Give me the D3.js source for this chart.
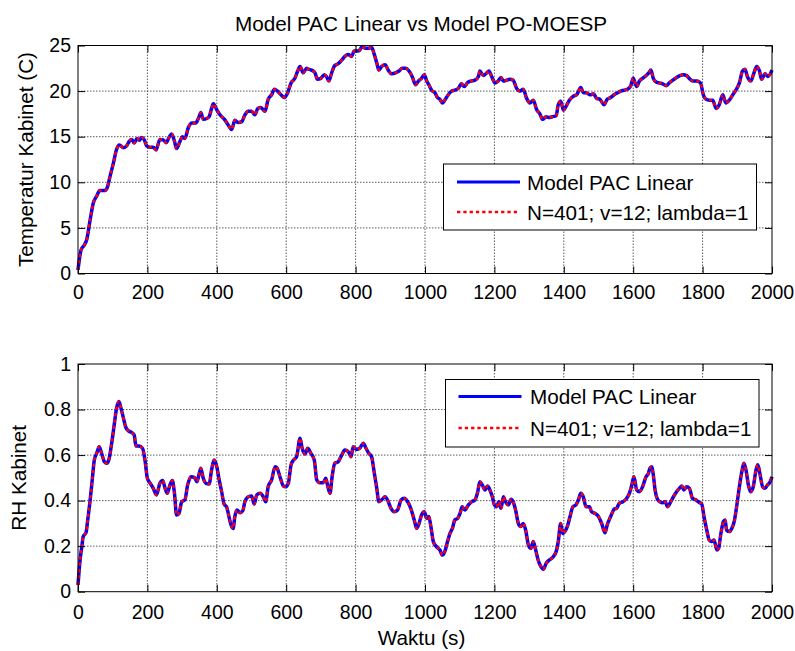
<!DOCTYPE html>
<html>
<head>
<meta charset="utf-8">
<script src="https://cdn.jsdelivr.net/npm/d3@7"></script>
<style>
  html, body { margin: 0; padding: 0; background: #fff; }
  svg { display: block; font-family: "Liberation Sans", Arial, sans-serif; }
</style>
</head>
<body>
<svg id="chart" width="795" height="651"></svg>
<script>
// ---------------- DATA ----------------
const chartTitle = "Model PAC Linear vs Model PO-MOESP";
const seriesNames = ["Model PAC Linear", "N=401; v=12; lambda=1"];
const xTicks = [0, 200, 400, 600, 800, 1000, 1200, 1400, 1600, 1800, 2000];
const tempTicks = [0, 5, 10, 15, 20, 25];
const rhTicks = [0, 0.2, 0.4, 0.6, 0.8, 1];

// Top panel: time (s) and cabinet temperature (C)
const tempTime = [0,9,18,25,35,44,54,63,78,85,92,102,111,119,131,140,148,155,162,170,177,183,191,198,207,217,225,236,246,254,262,270,278,284,294,301,308,318,328,339,349,354,361,371,378,385,390,400,409,422,431,443,452,462,472,481,491,500,510,518,527,539,548,558,566,575,585,595,604,614,625,633,640,649,659,664,673,683,690,700,710,716,723,731,740,750,760,769,779,788,796,806,812,819,827,837,846,854,861,867,875,885,894,904,915,925,934,944,954,963,973,981,990,998,1005,1011,1019,1029,1036,1043,1050,1057,1067,1077,1086,1096,1105,1113,1123,1132,1144,1154,1158,1168,1178,1184,1192,1202,1211,1219,1226,1235,1245,1254,1264,1274,1283,1293,1302,1312,1322,1331,1339,1349,1358,1368,1378,1384,1391,1399,1406,1416,1426,1437,1449,1456,1466,1476,1485,1495,1504,1516,1525,1535,1545,1554,1564,1574,1583,1593,1600,1610,1618,1627,1637,1645,1651,1658,1666,1675,1685,1695,1704,1714,1725,1735,1744,1754,1764,1773,1783,1794,1802,1810,1819,1829,1839,1848,1858,1867,1877,1887,1896,1906,1915,1922,1929,1939,1948,1956,1964,1970,1980,1988,2000];
const tempPAC = [0.4,2.6,3.1,3.7,5.9,7.7,8.5,9.1,9.1,9.5,10.6,12.1,13.6,14.1,13.8,14.0,14.5,14.7,14.3,14.8,14.6,14.9,14.65,14.0,13.85,13.85,13.55,14.7,14.65,14.35,14.9,15.3,14.5,13.7,14.5,15.0,14.8,16.0,16.5,16.5,17.2,17.65,16.9,17.0,17.2,18.1,18.6,17.95,17.4,16.9,16.4,15.8,16.8,16.55,16.65,17.4,17.8,17.8,17.4,18.1,18.2,17.8,19.1,19.6,20.2,20.0,19.6,19.3,19.8,20.9,21.4,22.2,22.7,22.0,22.5,22.4,22.3,22.0,21.3,21.4,21.8,21.6,21.1,22.0,22.8,23.0,23.4,23.8,24.0,23.8,24.4,24.4,24.5,24.9,24.7,24.7,24.8,24.0,23.1,22.3,22.7,22.9,22.3,21.9,22.0,22.2,22.5,22.5,22.2,21.6,20.7,21.1,21.4,21.8,21.1,20.7,20.1,19.8,19.3,19.1,18.7,19.0,19.6,20.0,20.1,20.3,20.8,20.5,20.95,21.1,21.2,21.6,22.2,21.7,22.0,22.2,21.6,20.9,21.1,21.5,21.1,21.2,21.3,21.2,20.3,20.0,20.2,19.2,18.7,19.0,17.95,17.5,16.9,17.2,17.1,17.2,17.3,18.5,18.9,17.9,18.3,19.0,19.4,19.6,20.4,19.85,19.8,19.6,19.7,19.2,19.1,18.5,19.1,19.3,19.6,19.8,20.0,20.1,20.2,20.6,21.4,20.5,21.1,21.4,21.7,22.0,22.3,21.4,21.0,20.9,20.8,20.6,20.9,21.2,21.5,21.7,21.8,21.7,21.3,21.1,21.1,20.9,19.6,19.1,19.0,19.0,18.1,18.5,19.6,18.7,19.0,19.6,20.1,20.9,22.2,22.4,21.6,21.1,22.0,22.7,22.2,21.3,21.9,21.6,22.3];
const tempMOESP = [0.4,2.6,3.1,3.7,5.9,7.7,8.5,9.1,9.1,9.5,10.6,12.1,13.6,14.1,13.8,14.0,14.5,14.7,14.3,14.8,14.6,14.9,14.65,14.0,13.85,13.85,13.55,14.7,14.65,14.35,14.9,15.3,14.5,13.7,14.5,15.0,14.8,16.0,16.5,16.5,17.2,17.65,16.9,17.0,17.2,18.1,18.6,17.95,17.4,16.9,16.4,15.8,16.8,16.55,16.65,17.4,17.8,17.8,17.4,18.1,18.2,17.8,19.1,19.6,20.2,20.0,19.6,19.3,19.8,20.9,21.4,22.2,22.7,22.0,22.5,22.4,22.3,22.0,21.3,21.4,21.8,21.6,21.1,22.0,22.8,23.0,23.4,23.8,24.0,23.8,24.4,24.4,24.5,24.9,24.7,24.7,24.8,24.0,23.1,22.3,22.7,22.9,22.3,21.9,22.0,22.2,22.5,22.5,22.2,21.6,20.7,21.1,21.4,21.8,21.1,20.7,20.1,19.8,19.3,19.1,18.7,19.0,19.6,20.0,20.1,20.3,20.8,20.5,20.95,21.1,21.2,21.6,22.2,21.7,22.0,22.2,21.6,20.9,21.1,21.5,21.1,21.2,21.3,21.2,20.3,20.0,20.2,19.2,18.7,19.0,17.95,17.5,16.9,17.2,17.1,17.2,17.3,18.5,18.9,17.9,18.3,19.0,19.4,19.6,20.4,19.85,19.8,19.6,19.7,19.2,19.1,18.5,19.1,19.3,19.6,19.8,20.0,20.1,20.2,20.6,21.4,20.5,21.1,21.4,21.7,22.0,22.3,21.4,21.0,20.9,20.8,20.6,20.9,21.2,21.5,21.7,21.8,21.7,21.3,21.1,21.1,20.9,19.6,19.1,19.0,19.0,18.1,18.5,19.6,18.7,19.0,19.6,20.1,20.9,22.2,22.4,21.6,21.1,22.0,22.7,22.2,21.3,21.9,21.6,22.3];

// Bottom panel: time (s) and cabinet relative humidity
const rhTime = [0,6,11,15,23,28,35,41,47,54,61,68,76,83,90,97,105,111,118,124,131,137,145,155,162,167,176,186,193,200,207,217,226,236,244,251,257,265,272,278,284,291,299,308,316,326,335,343,349,354,361,369,378,385,392,400,406,414,421,428,435,441,447,452,458,467,475,481,491,500,508,515,525,534,541,548,558,568,574,582,592,598,606,614,621,630,640,646,654,662,671,681,688,697,707,714,719,726,733,740,750,760,769,779,787,793,803,812,822,830,838,846,854,861,867,875,885,892,902,911,921,931,940,950,959,969,976,983,990,998,1005,1011,1017,1024,1033,1043,1050,1057,1065,1072,1079,1086,1094,1101,1107,1115,1125,1134,1144,1152,1158,1165,1173,1180,1187,1194,1200,1206,1213,1219,1226,1232,1240,1248,1254,1261,1269,1276,1283,1290,1298,1305,1312,1319,1326,1334,1341,1349,1358,1368,1378,1384,1391,1397,1403,1410,1418,1426,1435,1442,1449,1456,1464,1474,1480,1490,1500,1509,1519,1525,1535,1545,1552,1560,1570,1579,1589,1596,1602,1610,1618,1627,1637,1644,1648,1653,1658,1663,1670,1677,1685,1692,1699,1708,1716,1725,1733,1740,1746,1754,1762,1771,1781,1791,1797,1804,1812,1819,1826,1833,1841,1846,1852,1860,1865,1869,1877,1884,1891,1898,1906,1913,1919,1925,1932,1938,1946,1954,1959,1965,1973,1980,1987,1992,2000];
const rhPAC = [0.03,0.139,0.198,0.242,0.259,0.315,0.403,0.491,0.578,0.608,0.637,0.608,0.571,0.564,0.586,0.652,0.740,0.805,0.835,0.805,0.762,0.725,0.707,0.699,0.688,0.640,0.640,0.630,0.578,0.498,0.479,0.454,0.425,0.476,0.488,0.454,0.432,0.469,0.488,0.432,0.337,0.344,0.395,0.403,0.469,0.505,0.502,0.483,0.517,0.542,0.498,0.476,0.473,0.535,0.578,0.549,0.498,0.439,0.385,0.373,0.330,0.293,0.278,0.330,0.359,0.347,0.356,0.395,0.417,0.420,0.385,0.425,0.432,0.417,0.395,0.461,0.491,0.549,0.542,0.505,0.464,0.461,0.476,0.557,0.578,0.593,0.674,0.630,0.605,0.630,0.608,0.578,0.491,0.479,0.479,0.498,0.469,0.432,0.513,0.564,0.571,0.600,0.622,0.615,0.593,0.637,0.625,0.630,0.652,0.630,0.608,0.593,0.520,0.454,0.395,0.403,0.417,0.403,0.366,0.351,0.359,0.403,0.410,0.395,0.366,0.315,0.278,0.300,0.337,0.351,0.322,0.330,0.286,0.220,0.198,0.183,0.161,0.176,0.220,0.256,0.278,0.315,0.322,0.344,0.373,0.359,0.381,0.395,0.403,0.439,0.483,0.469,0.447,0.464,0.447,0.417,0.381,0.373,0.395,0.366,0.417,0.395,0.381,0.406,0.395,0.359,0.300,0.286,0.300,0.271,0.205,0.190,0.220,0.183,0.139,0.110,0.098,0.124,0.139,0.151,0.176,0.220,0.300,0.256,0.264,0.286,0.330,0.373,0.381,0.403,0.432,0.417,0.373,0.373,0.351,0.344,0.330,0.300,0.259,0.293,0.330,0.362,0.366,0.388,0.395,0.406,0.432,0.469,0.505,0.447,0.439,0.461,0.505,0.520,0.542,0.549,0.513,0.447,0.406,0.395,0.391,0.395,0.373,0.395,0.417,0.439,0.454,0.464,0.447,0.461,0.454,0.410,0.403,0.391,0.388,0.330,0.271,0.227,0.220,0.227,0.183,0.190,0.249,0.308,0.315,0.271,0.264,0.278,0.308,0.373,0.461,0.527,0.564,0.535,0.469,0.439,0.461,0.535,0.557,0.520,0.461,0.454,0.469,0.476,0.505];
const rhMOESP = [0.03,0.139,0.198,0.242,0.259,0.315,0.403,0.491,0.578,0.608,0.637,0.608,0.571,0.564,0.586,0.652,0.740,0.805,0.835,0.805,0.762,0.725,0.707,0.699,0.688,0.640,0.640,0.630,0.578,0.498,0.479,0.454,0.425,0.476,0.488,0.454,0.432,0.469,0.488,0.432,0.337,0.344,0.395,0.403,0.469,0.505,0.502,0.483,0.517,0.542,0.498,0.476,0.473,0.535,0.578,0.549,0.498,0.439,0.385,0.373,0.330,0.293,0.278,0.330,0.359,0.347,0.356,0.395,0.417,0.420,0.385,0.425,0.432,0.417,0.395,0.461,0.491,0.549,0.542,0.505,0.464,0.461,0.476,0.557,0.578,0.593,0.674,0.630,0.605,0.630,0.608,0.578,0.491,0.479,0.479,0.498,0.469,0.432,0.513,0.564,0.571,0.600,0.622,0.615,0.593,0.637,0.625,0.630,0.652,0.630,0.608,0.593,0.520,0.454,0.395,0.403,0.417,0.403,0.366,0.351,0.359,0.403,0.410,0.395,0.366,0.315,0.278,0.300,0.337,0.351,0.322,0.330,0.286,0.220,0.198,0.183,0.161,0.176,0.220,0.256,0.278,0.315,0.322,0.344,0.373,0.359,0.381,0.395,0.403,0.439,0.483,0.469,0.447,0.464,0.447,0.417,0.381,0.373,0.395,0.366,0.417,0.395,0.381,0.406,0.395,0.359,0.300,0.286,0.300,0.271,0.205,0.190,0.220,0.183,0.139,0.110,0.098,0.124,0.139,0.151,0.176,0.220,0.300,0.256,0.264,0.286,0.330,0.373,0.381,0.403,0.432,0.417,0.373,0.373,0.351,0.344,0.330,0.300,0.259,0.293,0.330,0.362,0.366,0.388,0.395,0.406,0.432,0.469,0.505,0.447,0.439,0.461,0.505,0.520,0.542,0.549,0.513,0.447,0.406,0.395,0.391,0.395,0.373,0.395,0.417,0.439,0.454,0.464,0.447,0.461,0.454,0.410,0.403,0.391,0.388,0.330,0.271,0.227,0.220,0.227,0.183,0.190,0.249,0.308,0.315,0.271,0.264,0.278,0.308,0.373,0.461,0.527,0.564,0.535,0.469,0.439,0.461,0.535,0.557,0.520,0.461,0.454,0.469,0.476,0.505];

// ---------------- DRAWING ----------------
const svg = d3.select("#chart");
const FONT_TICK = 19.5, FONT_TEXT = 20.7;
const left = 78, right = 772;

const x = d3.scaleLinear().domain([0, 2000]).range([left, right]);

svg.append("text")
  .attr("x", 421).attr("y", 30.5)
  .attr("text-anchor", "middle")
  .attr("font-size", FONT_TEXT).attr("fill", "#000")
  .text(chartTitle);

function panel(cfg) {
  const y = d3.scaleLinear().domain(cfg.domain).range([cfg.bottom, cfg.top]);
  const g = svg.append("g");

  // grid
  const grid = g.append("g").attr("stroke", "#333").attr("stroke-width", 0.8)
    .attr("stroke-dasharray", "1.5,1.5").attr("fill", "none");
  xTicks.slice(1, -1).forEach(t => {
    grid.append("line").attr("x1", x(t)).attr("x2", x(t)).attr("y1", cfg.top).attr("y2", cfg.bottom);
  });
  cfg.yTicks.slice(1, -1).forEach(t => {
    grid.append("line").attr("x1", left).attr("x2", right).attr("y1", y(t)).attr("y2", y(t));
  });

  // series
  const mk = (vals) => cfg.time.map((t, i) => [t, vals[i]]);
  const line = d3.line().x(d => x(d[0])).y(d => y(d[1])).curve(d3.curveMonotoneX);
  g.append("path").datum(mk(cfg.s1)).attr("d", line)
    .attr("fill", "none").attr("stroke", "#0000ff").attr("stroke-width", 3.5)
    .attr("stroke-linejoin", "round");
  g.append("path").datum(mk(cfg.s2)).attr("d", line)
    .attr("fill", "none").attr("stroke", "#ff0000").attr("stroke-width", 2.6)
    .attr("stroke-dasharray", "3.3,3");

  // axes with inward ticks
  const styleAxis = sel => {
    sel.select(".domain").remove();
    sel.selectAll(".tick line").attr("stroke", "#000");
    sel.selectAll(".tick text").attr("fill", "#000")
      .attr("font-size", FONT_TICK).attr("font-family", '"Liberation Sans", Arial, sans-serif');
  };
  g.append("g").attr("transform", `translate(0,${cfg.bottom})`)
    .call(d3.axisBottom(x).tickValues(xTicks).tickSize(-7).tickPadding(cfg.xPad).tickFormat(d3.format("d")))
    .call(styleAxis);
  g.append("g").attr("transform", `translate(0,${cfg.top})`)
    .call(d3.axisTop(x).tickValues(xTicks).tickSize(-7).tickFormat(""))
    .call(styleAxis);
  g.append("g").attr("transform", `translate(${left},0)`)
    .call(d3.axisLeft(y).tickValues(cfg.yTicks).tickSize(-7).tickPadding(7).tickFormat(cfg.yFmt))
    .call(styleAxis);
  g.append("g").attr("transform", `translate(${right},0)`)
    .call(d3.axisRight(y).tickValues(cfg.yTicks).tickSize(-7).tickFormat(""))
    .call(styleAxis);

  g.append("rect").attr("x", left).attr("y", cfg.top)
    .attr("width", right - left).attr("height", cfg.bottom - cfg.top)
    .attr("fill", "none").attr("stroke", "#000").attr("stroke-width", 1);

  // y label
  svg.append("text")
    .attr("transform", `translate(${cfg.ylabX},${(cfg.top + cfg.bottom) / 2}) rotate(-90)`)
    .attr("text-anchor", "middle").attr("font-size", FONT_TEXT).attr("fill", "#000")
    .text(cfg.ylabel);

  // legend
  const L = cfg.legend;
  const lg = svg.append("g");
  lg.append("rect").attr("x", L.x).attr("y", L.y).attr("width", L.w).attr("height", L.h)
    .attr("fill", "#fff").attr("stroke", "#000").attr("stroke-width", 1);
  lg.append("line").attr("x1", L.lx1).attr("x2", L.lx2).attr("y1", L.r1).attr("y2", L.r1)
    .attr("stroke", "#0000ff").attr("stroke-width", 3.2);
  lg.append("line").attr("x1", L.lx1).attr("x2", L.lx2).attr("y1", L.r2).attr("y2", L.r2)
    .attr("stroke", "#ff0000").attr("stroke-width", 2.6).attr("stroke-dasharray", "3.3,3");
  lg.append("text").attr("x", L.tx).attr("y", L.r1 + 7.5).attr("font-size", FONT_TEXT).attr("fill", "#000").text(seriesNames[0]);
  lg.append("text").attr("x", L.tx).attr("y", L.r2 + 7.5).attr("font-size", FONT_TEXT).attr("fill", "#000").text(seriesNames[1]);
}

panel({
  top: 45.5, bottom: 273.5, domain: [0, 25], yTicks: tempTicks, yFmt: d3.format("d"),
  time: tempTime, s1: tempPAC, s2: tempMOESP, xPad: 12,
  ylabel: "Temperatur Kabinet (C)", ylabX: 33,
  legend: { x: 443.5, y: 164, w: 313, h: 66, lx1: 457, lx2: 520, tx: 527, r1: 182, r2: 212 }
});

panel({
  top: 364, bottom: 591.7, domain: [0, 1], yTicks: rhTicks, yFmt: d => d === 0 || d === 1 ? d3.format("d")(d) : d3.format(".1f")(d),
  time: rhTime, s1: rhPAC, s2: rhMOESP, xPad: 13,
  ylabel: "RH Kabinet", ylabX: 26,
  legend: { x: 445.5, y: 379.5, w: 313.5, h: 67.5, lx1: 458.5, lx2: 521.5, tx: 530, r1: 396.5, r2: 428 }
});

svg.append("text")
  .attr("x", 421.5).attr("y", 645)
  .attr("text-anchor", "middle").attr("font-size", FONT_TEXT).attr("fill", "#000")
  .text("Waktu (s)");
</script>
</body>
</html>
